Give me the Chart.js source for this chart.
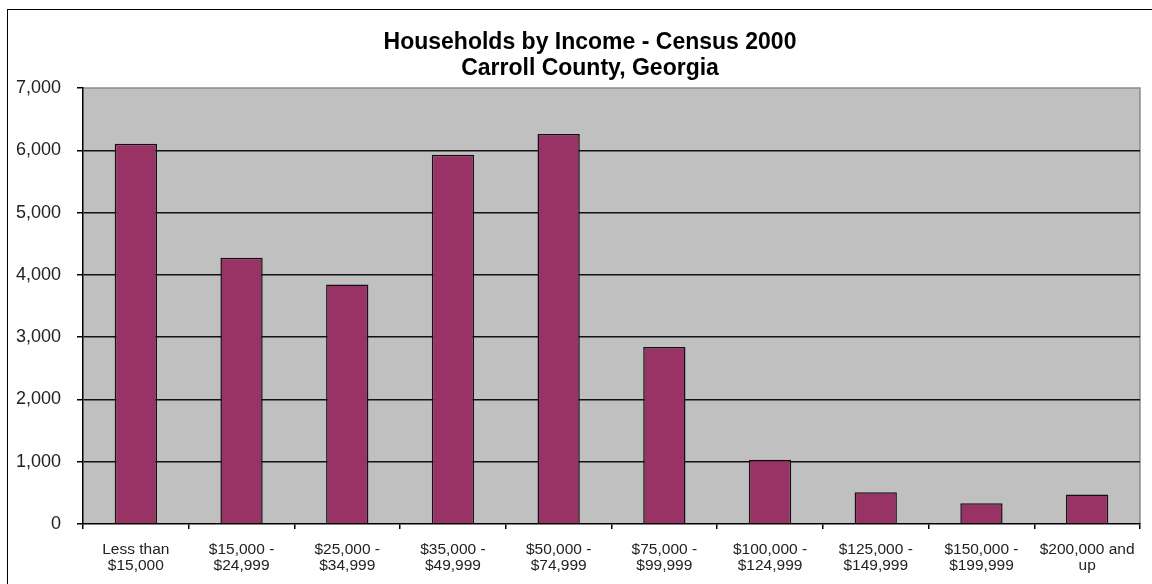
<!DOCTYPE html>
<html>
<head>
<meta charset="utf-8">
<script src="https://cdn.jsdelivr.net/npm/chart.js@4/dist/chart.umd.min.js"></script>
<style>
  html, body { margin: 0; padding: 0; background: #fff; overflow: hidden; }
  #wrap { position: relative; width: 1152px; height: 584px; }
  #frame { position: absolute; left: 7px; top: 9px; width: 1300px; height: 800px; border: 1px solid #000; pointer-events: none; }
  canvas { position: absolute; left: 0; top: 0; }
</style>
</head>
<body>
<div id="wrap">
  <canvas id="c" width="1152" height="584"></canvas>
  <div id="frame"></div>
</div>
<script>
const titleLines = ["Households by Income - Census 2000", "Carroll County, Georgia"];
const categories = [
  ["Less than", "$15,000"],
  ["$15,000 -", "$24,999"],
  ["$25,000 -", "$34,999"],
  ["$35,000 -", "$49,999"],
  ["$50,000 -", "$74,999"],
  ["$75,000 -", "$99,999"],
  ["$100,000 -", "$124,999"],
  ["$125,000 -", "$149,999"],
  ["$150,000 -", "$199,999"],
  ["$200,000 and", "up"]
];
const households = [6105, 4275, 3845, 5930, 6260, 2840, 1030, 510, 335, 475];
const yMin = 0, yMax = 7000, yStep = 1000;

const FONT = '"Liberation Sans", Arial, sans-serif';

const plotBg = {
  id: 'plotBg',
  beforeDraw(chart) {
    const { ctx, chartArea: a } = chart;
    ctx.save();
    ctx.fillStyle = '#C0C0C0';
    ctx.fillRect(a.left, a.top, a.right - a.left, a.bottom - a.top);
    ctx.strokeStyle = '#8c8c8c';
    ctx.lineWidth = 1.5;
    ctx.beginPath();
    ctx.moveTo(a.left, a.top);
    ctx.lineTo(a.right, a.top);
    ctx.lineTo(a.right, a.bottom);
    ctx.stroke();
    ctx.restore();
  }
};

const titleDraw = {
  id: 'titleDraw',
  afterDraw(chart) {
    const { ctx } = chart;
    ctx.save();
    ctx.fillStyle = '#000';
    ctx.font = 'bold 23px ' + FONT;
    ctx.textAlign = 'center';
    ctx.textBaseline = 'alphabetic';
    const cx = 590;
    const baselines = [48.7, 74.7];
    titleLines.forEach((t, i) => ctx.fillText(t, cx, baselines[i]));
    ctx.restore();
  }
};

new Chart(document.getElementById('c'), {
  type: 'bar',
  data: {
    labels: categories,
    datasets: [{
      data: households,
      backgroundColor: '#993366',
      borderColor: '#111',
      borderWidth: 1.5,
      barPercentage: 0.4,
      categoryPercentage: 1.0
    }]
  },
  options: {
    responsive: false,
    animation: false,
    devicePixelRatio: 1,
    layout: { padding: { left: 0, right: 12, top: 88, bottom: 0 } },
    plugins: {
      legend: { display: false },
      tooltip: { enabled: false },
      title: { display: false }
    },
    scales: {
      x: {
        offset: true,
        grid: {
          display: true,
          drawOnChartArea: false,
          drawTicks: true,
          tickLength: 5,
          color: '#000',
          lineWidth: 1.5,
          offset: true
        },
        border: { display: true, color: '#000', width: 1.5 },
        ticks: {
          color: '#222',
          font: { family: FONT, size: 15.5, lineHeight: 1.0 },
          padding: 13,
          maxRotation: 0,
          autoSkip: false
        },
        afterFit(scale) { scale.height = 60; }
      },
      y: {
        min: yMin,
        max: yMax,
        ticks: {
          stepSize: yStep,
          color: '#222',
          font: { family: FONT, size: 18 },
          padding: 16,
          callback: v => v.toLocaleString('en-US')
        },
        grid: {
          color: ctx => (ctx.tick && (ctx.tick.value === yMax || ctx.tick.value === yMin)) ? 'rgba(0,0,0,0)' : '#111',
          tickColor: '#000',
          lineWidth: 1.5,
          tickLength: 6,
          drawTicks: true
        },
        border: { display: true, color: '#000', width: 1.5 },
        afterFit(scale) { scale.width = 83; }
      }
    }
  },
  plugins: [plotBg, titleDraw]
});
</script>
</body>
</html>
